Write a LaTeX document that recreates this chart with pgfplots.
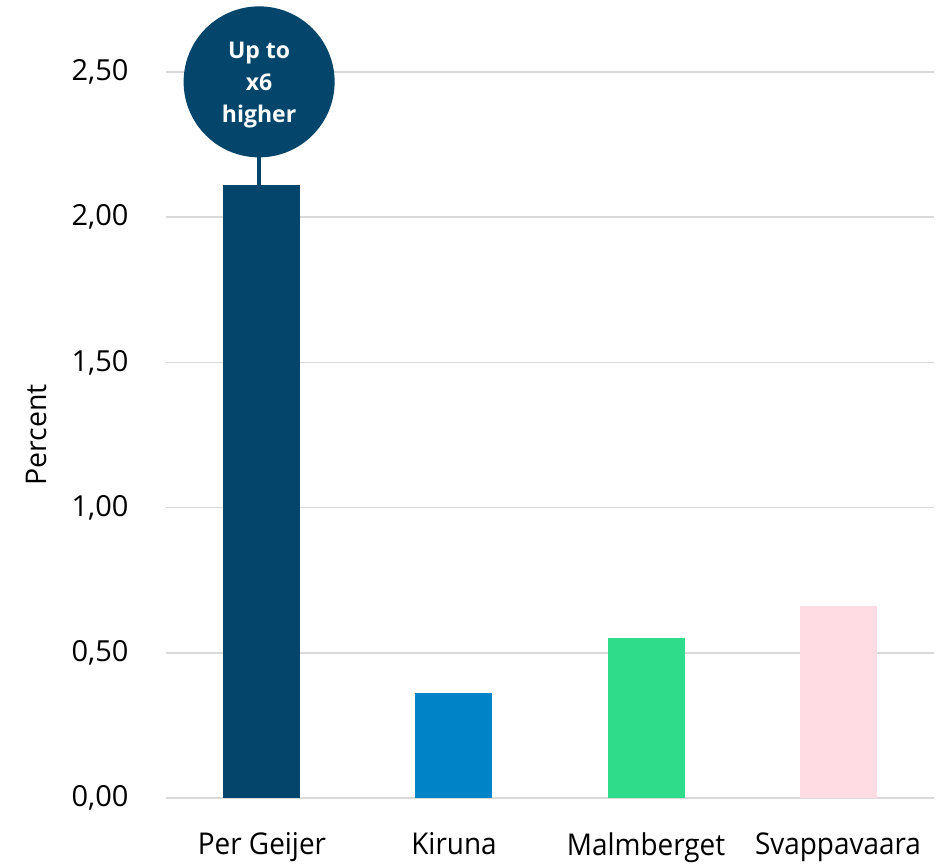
\documentclass[border=0pt]{standalone}
\usepackage{fontspec}
\setmainfont{Open Sans}
\newfontfamily\catfont[FakeStretch=0.93]{Open Sans}
\usepackage{pgfplots}
\pgfplotsset{compat=1.18}

\definecolor{navy}{HTML}{03456B}
\definecolor{kblue}{HTML}{0084C8}
\definecolor{mgreen}{HTML}{2EDC8A}
\definecolor{spink}{HTML}{FFDCE3}
\definecolor{gridgray}{HTML}{D9D9D9}

\begin{document}
\begin{tikzpicture}
\useasboundingbox (-166pt,-68pt) rectangle (772pt,798pt);
\begin{axis}[
    scale only axis,
    width=768pt, height=726pt,
    ybar, bar width=77pt, bar shift=0pt,
    xmin=-0.5, xmax=3.5,
    ymin=0, ymax=2.5,
    ytick={0,0.5,1,1.5,2,2.5},
    xtick={0,1,2,3},
    xticklabels={Per Geijer, Kiruna, Malmberget, Svappavaara},
    axis x line*=bottom,
    axis y line*=left,
    y axis line style={draw=none},
    x axis line style={draw=gridgray, line width=2.2pt, -},
    major tick length=0pt,
    ymajorgrids,
    grid style={draw=gridgray, line width=1.6pt},
    /pgf/number format/.cd, fixed, fixed zerofill, precision=2, use comma, assume math mode=true,
    /pgfplots/.cd,
    yticklabel style={font=\fontsize{29}{30}\selectfont, xshift=-34pt},
    xticklabel style={font=\catfont\fontsize{30}{32}\selectfont, yshift=-31pt},
    ylabel={Percent},
    ylabel style={font=\fontsize{28.5}{30}\selectfont, yshift=18pt},
    clip=false,
]
\addplot[draw=none, fill=navy] coordinates {(0,2.11)};
\addplot[draw=none, fill=kblue] coordinates {(1,0.36)};
\addplot[draw=none, fill=mgreen] coordinates {(2,0.55)};
\addplot[draw=none, fill=spink] coordinates {(3,0.66)};
\draw[navy, line width=3.5pt] (axis cs:-0.015,2.11) -- (axis cs:-0.015,2.25);
\node[circle, fill=navy, minimum size=151pt, inner sep=0pt]
      at (axis cs:-0.015,2.466) {};
\node[text=white, font=\bfseries\fontsize{23}{32}\selectfont, align=center, yshift=-3pt]
      at (axis cs:-0.015,2.466) {Up to\\x6\\higher};
\end{axis}
\end{tikzpicture}
\end{document}
